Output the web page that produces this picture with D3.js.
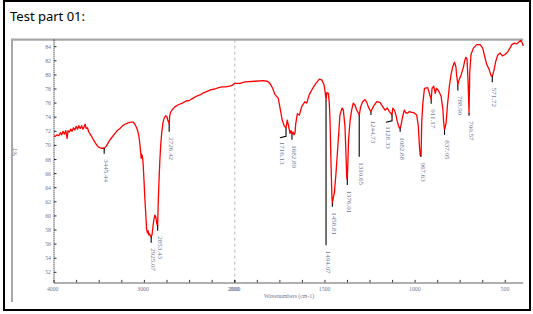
<!DOCTYPE html>
<html>
<head>
<meta charset="utf-8">
<script src="https://cdn.jsdelivr.net/npm/d3@7.9.0/dist/d3.min.js"></script>
<style>
  html, body { margin: 0; padding: 0; background: #fff; }
  svg { display: block; }
  .tick-label { font-family: "Liberation Serif", serif; font-size: 5.8px; fill: #6d7799; }
  .peak-label { font-family: "Liberation Serif", serif; font-size: 7px; fill: #6d7799; }
</style>
</head>
<body>
<svg id="chart" width="533" height="314"></svg>
<script>
// spectrum (wavenumber cm-1, %T)
const wavenumbers = [
  4000, 3985, 3965, 3945, 3930, 3915, 3900, 3885, 3870, 3855, 3845, 3830, 3815, 3800, 3785, 3770,
  3755, 3740, 3725, 3710, 3695, 3680, 3665, 3655, 3645, 3630, 3615, 3600, 3580, 3560, 3535, 3510,
  3480, 3445, 3420, 3400, 3380, 3350, 3325, 3300, 3270, 3240, 3214, 3180, 3150, 3125, 3105, 3090,
  3075, 3062, 3050, 3040, 3036, 3033, 3029, 3024, 3015, 3005, 2995, 2985, 2976, 2968, 2960, 2952,
  2945, 2935, 2925, 2915, 2905, 2895, 2885, 2878, 2870, 2862, 2856, 2853, 2848, 2840, 2830, 2820,
  2809, 2795, 2780, 2765, 2752, 2742, 2732, 2726, 2720, 2710, 2690, 2660, 2620, 2580, 2540, 2500,
  2460, 2420, 2380, 2340, 2300, 2260, 2220, 2180, 2140, 2100, 2060, 2030, 2010, 2000,
  1971, 1943, 1888, 1842, 1820, 1805, 1790, 1777, 1759, 1749, 1737, 1725, 1716, 1709, 1703, 1694,
  1688, 1683, 1677, 1672, 1666, 1662, 1653, 1642, 1629, 1611, 1601, 1587, 1568, 1550, 1531, 1518,
  1505, 1498, 1494, 1490, 1481, 1476, 1472, 1466, 1461, 1459, 1454, 1448, 1439, 1426, 1417, 1405,
  1398, 1389, 1383, 1379, 1376, 1373, 1369, 1361, 1352, 1343, 1333, 1324, 1315, 1310, 1302, 1291,
  1278, 1268, 1260, 1250, 1245, 1232, 1213, 1195, 1180, 1167, 1154, 1143, 1134, 1128, 1124, 1115,
  1106, 1099, 1088, 1083, 1078, 1069, 1060, 1051, 1041, 1032, 1019, 1005, 991, 982, 977, 972,
  967, 963, 957, 948, 930, 921, 911, 906, 897, 888, 882, 871, 856, 846, 842, 837,
  828, 821, 810, 801, 791, 782, 774, 769, 763, 756, 745, 733, 723, 718, 712, 706,
  701, 697, 690, 677, 658, 640, 625, 612, 603, 590, 579, 572, 564, 553, 542, 529,
  516, 501, 486, 474, 464, 450, 437, 428, 413, 405, 400
];
const transmittance = [
  71.3, 71.3, 71.5, 71.4, 71.8, 71.5, 72.0, 71.6, 72.1, 71.0, 72.1, 71.9, 72.3, 72.0, 72.5, 72.2,
  72.7, 72.3, 72.8, 72.4, 72.8, 72.3, 72.7, 73.0, 72.4, 72.5, 71.9, 71.6, 71.2, 70.7, 70.2, 69.8,
  69.6, 69.6, 69.9, 70.4, 70.8, 71.3, 71.7, 72.1, 72.4, 72.8, 73.0, 73.2, 73.3, 73.3, 73.0, 72.6,
  72.1, 71.4, 70.2, 68.8, 68.2, 68.8, 68.2, 68.6, 67.6, 65.2, 62.5, 60.3, 58.2, 57.6, 57.9, 57.3,
  57.5, 57.2, 57.0, 57.4, 58.5, 59.5, 60.1, 60.0, 59.6, 58.8, 58.6, 58.7, 61.5, 64.5, 67.6, 70.0,
  71.7, 73.2, 73.9, 74.2, 74.1, 73.6, 73.3, 73.0, 74.2, 74.7, 75.1, 75.5, 75.8, 76.0, 76.3, 76.4,
  76.7, 77.0, 77.2, 77.5, 77.7, 77.9, 78.0, 78.2, 78.3, 78.3, 78.4, 78.5, 78.7, 78.8,
  78.8, 79.0, 79.1, 79.2, 79.1, 78.8, 78.1, 77.2, 76.7, 75.3, 73.6, 72.7, 72.5, 73.6, 72.9, 71.7,
  72.1, 71.6, 71.9, 71.5, 71.8, 73.1, 74.5, 74.3, 75.5, 76.2, 76.0, 77.2, 78.1, 78.8, 79.4, 79.3,
  78.6, 77.4, 76.4, 77.5, 77.4, 76.0, 73.6, 67.0, 62.5, 61.8, 62.6, 63.2, 66.0, 70.8, 74.3, 75.3,
  75.0, 72.7, 68.4, 65.3, 65.2, 67.5, 70.8, 73.4, 75.0, 76.0, 75.7, 75.0, 74.6, 74.3, 75.5, 76.2,
  76.5, 76.1, 75.5, 75.0, 74.8, 75.5, 76.2, 76.1, 75.5, 75.0, 75.3, 74.8, 74.5, 74.3, 75.3, 75.0,
  74.3, 73.4, 72.5, 72.4, 72.9, 74.1, 75.0, 74.6, 74.6, 74.8, 74.7, 74.6, 74.3, 72.7, 70.3, 68.6,
  68.6, 73.5, 76.0, 78.1, 78.2, 77.4, 76.5, 78.1, 78.4, 77.4, 78.1, 77.8, 77.0, 75.1, 73.4, 72.2,
  73.2, 75.6, 78.4, 80.0, 81.2, 81.8, 81.2, 79.8, 78.6, 79.3, 80.0, 81.0, 82.2, 82.5, 82.2, 78.9,
  74.6, 80.3, 82.9, 83.8, 84.3, 84.3, 83.8, 82.4, 81.5, 80.8, 79.9, 79.8, 80.5, 81.9, 82.8, 83.1,
  82.7, 82.9, 83.3, 83.8, 84.3, 84.5, 84.4, 84.6, 84.9, 84.5, 84.1
];

// peak markers
const peakLabels = ["3445.44", "2925.07", "2853.43", "2726.42", "1716.13", "1682.89", "1494.07",
  "1458.81", "1376.01", "1310.65", "1244.73", "1128.33", "1082.88", "967.63", "911.17", "837.05",
  "788.90", "700.57", "571.72"];
const peakW = [3445, 2925, 2853, 2726, 1716, 1683, 1494, 1459, 1376, 1310, 1245, 1128, 1083, 968, 911, 837, 763, 701, 572];
const peakT = [69.6, 57.0, 58.7, 73.0, 72.5, 71.6, 76.4, 61.8, 65.2, 74.3, 74.8, 74.3, 72.4, 68.6, 76.5, 72.2, 78.6, 74.6, 79.8];
const leaderEndT = [68.8, 56.2, 57.9, 71.95, 71.3, 70.8, 55.85, 61.3, 64.4, 68.4, 74.3, 73.5, 71.95, 68.35, 75.9, 71.5, 77.8, 74.2, 78.95];
const labelW = [3445, 2925, 2853, 2726, 1750, 1683, 1494, 1459, 1376, 1310, 1245, 1162, 1083, 968, 911, 837, 763, 701, 572];

// axes
const yTicks = [52, 54, 56, 58, 60, 62, 64, 66, 68, 70, 72, 74, 76, 78, 80, 82, 84];
const xTicksLeft = [4000, 3750, 3500, 3250, 3000, 2750, 2500, 2250, 2000];
const xTicksRight = [2000, 1875, 1750, 1625, 1500, 1375, 1250, 1125, 1000, 875, 750, 625, 500];
const xLabelsLeft = [4000, 3000, 2000];
const xLabelsRight = [2000, 1500, 1000, 500];

const svg = d3.select("#chart");

// scale changes at 2000 cm-1 (right part doubled)
const x = d3.scaleLinear().domain([4000, 2000, 400]).range([54, 234.8, 523.3]);
const y = d3.scaleLinear().domain([50.5, 85]).range([282.9, 39.65]);

// outer frame
svg.append("rect")
  .attr("x", 4).attr("y", 1).attr("width", 526).attr("height", 309)
  .attr("fill", "none").attr("stroke", "#000").attr("stroke-width", 2);

svg.append("text")
  .attr("x", 10).attr("y", 21)
  .attr("font-family", "Noto Sans, Open Sans, sans-serif")
  .attr("font-size", 13)
  .attr("fill", "#000")
  .text("Test part 01:");

// chart box
svg.append("line")
  .attr("x1", 12).attr("x2", 12).attr("y1", 39).attr("y2", 302)
  .attr("stroke", "#a8a8a8").attr("stroke-width", 2);
svg.append("line")
  .attr("x1", 11).attr("x2", x(400)).attr("y1", y(85)).attr("y2", y(85))
  .attr("stroke", "#a8a8a8").attr("stroke-width", 2.2);

// break line at 2000
svg.append("line")
  .attr("x1", x(2000)).attr("x2", x(2000))
  .attr("y1", y(85)).attr("y2", y(50.5))
  .attr("stroke", "#b4b4b4").attr("stroke-dasharray", "3,3");

// x axis
svg.append("line")
  .attr("x1", x(4000)).attr("x2", x(400))
  .attr("y1", y(50.5)).attr("y2", y(50.5))
  .attr("stroke", "#b0b0b0").attr("stroke-width", 2);

svg.append("g")
  .selectAll("line")
  .data(xTicksLeft.concat(xTicksRight))
  .join("line")
  .attr("x1", (d) => x(d)).attr("x2", (d) => x(d))
  .attr("y1", y(50.5) - 3).attr("y2", y(50.5) - 0.5)
  .attr("stroke", "#000").attr("stroke-width", 0.8);

svg.append("g")
  .selectAll("text")
  .data(xLabelsLeft)
  .join("text")
  .attr("class", "tick-label")
  .attr("x", (d) => x(d) - 1.3)
  .attr("y", 290.5)
  .attr("text-anchor", "middle")
  .text((d) => d);

svg.append("g")
  .selectAll("text")
  .data(xLabelsRight)
  .join("text")
  .attr("class", "tick-label")
  .attr("x", (d) => x(d) - 0.3)
  .attr("y", 290.5)
  .attr("text-anchor", "middle")
  .text((d) => d);

svg.append("text")
  .attr("class", "tick-label")
  .attr("x", 289).attr("y", 298)
  .attr("text-anchor", "middle")
  .text("Wavenumbers (cm-1)");

// y axis
svg.append("line")
  .attr("x1", 54).attr("x2", 54)
  .attr("y1", y(85)).attr("y2", y(50.5))
  .attr("stroke", "#000").attr("stroke-dasharray", "1,1");

const yAxis = svg.append("g");
yAxis.selectAll("line")
  .data(yTicks)
  .join("line")
  .attr("x1", 54).attr("x2", 56.5)
  .attr("y1", (d) => y(d)).attr("y2", (d) => y(d))
  .attr("stroke", "#000").attr("stroke-width", 0.8);
yAxis.selectAll("text")
  .data(yTicks)
  .join("text")
  .attr("class", "tick-label")
  .attr("x", 51)
  .attr("y", (d) => y(d) + 2)
  .attr("text-anchor", "end")
  .text((d) => d);

svg.append("text")
  .attr("class", "tick-label")
  .attr("transform", "translate(17,152) rotate(-90)")
  .attr("text-anchor", "middle")
  .text("%T");

// spectrum
const points = wavenumbers.map((w, i) => [w, transmittance[i]]);
svg.append("path")
  .datum(points)
  .attr("fill", "none")
  .attr("stroke", "#ff0000")
  .attr("stroke-width", 1.3)
  .attr("stroke-linejoin", "round")
  .attr("d", d3.line().x((d) => x(d[0])).y((d) => y(d[1])));

// peak leaders and labels
const peaks = peakLabels.map((label, i) => ({
  label,
  w: peakW[i],
  t: peakT[i],
  end: leaderEndT[i],
  lw: labelW[i],
}));

svg.append("g")
  .selectAll("polyline")
  .data(peaks)
  .join("polyline")
  .attr("fill", "none")
  .attr("stroke", "#000")
  .attr("stroke-width", 1.1)
  .attr("points", (d) => {
    const pts = [[x(d.w), y(d.t)], [x(d.w), y(d.end)]];
    if (d.lw !== d.w) pts.push([x(d.lw), y(d.end) + 1.5]);
    return pts.map((p) => p.join(",")).join(" ");
  });

svg.append("g")
  .selectAll("text")
  .data(peaks)
  .join("text")
  .attr("class", "peak-label")
  .attr("transform", (d) => `translate(${x(d.lw)},${y(d.end) + 5.5}) rotate(90)`)
  .text((d) => d.label);
</script>
</body>
</html>
